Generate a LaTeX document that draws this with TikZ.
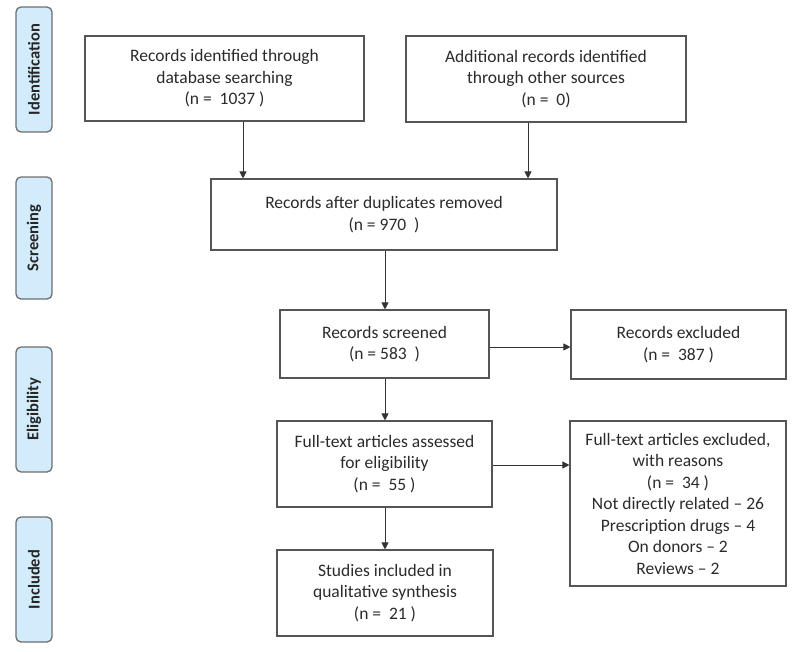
\documentclass[tikz,border=0pt]{standalone}
\usepackage{fontspec}
\setmainfont{Carlito}
\usetikzlibrary{arrows.meta}
\definecolor{boxline}{HTML}{555555}
\definecolor{sidefill}{HTML}{D2ECFB}
\definecolor{sideline}{HTML}{6E6E6E}
\definecolor{txt}{HTML}{2A2A2A}
\tikzset{
  flowbox/.style={draw=boxline, line width=1.1pt, align=center, inner sep=2pt,
    font=\fontsize{17.5}{21.5}\selectfont, text=txt},
  sidebox/.style={draw=sideline, line width=1.3pt, fill=sidefill, rounded corners=5pt,
    rotate=90, minimum height=36pt, inner sep=1pt,
    font=\fontsize{16.5}{18}\selectfont\bfseries, text=black!85},
  flowarrow/.style={draw=black!80, line width=1pt, -{Triangle[width=7pt,length=7pt]}}
}
\begin{document}
\begin{tikzpicture}[x=1pt,y=-1pt]
\useasboundingbox (0,0) rectangle (800,651);
% side labels
\node[sidebox, minimum width=125pt] (sid) at (34,69.5) {Identification};
\node[sidebox, minimum width=122pt] (sscr) at (34,238) {Screening};
\node[sidebox, minimum width=125pt] (selig) at (34,409.5) {Eligibility};
\node[sidebox, minimum width=125pt] (sinc) at (34,579.5) {Included};
% boxes
\node[flowbox, minimum width=279pt, minimum height=85pt] (id1) at (224.5,78.5)
  {Records identified through\\database searching\\(n =\ \ 1037 )};
\node[flowbox, minimum width=280pt, minimum height=86pt] (id2) at (546,79)
  {Additional records identified\\through other sources\\(n =\ \ 0)};
\node[flowbox, minimum width=346pt, minimum height=71pt] (dup) at (384,214.5)
  {Records after duplicates removed\\(n = 970\ \ )};
\node[flowbox, minimum width=209pt, minimum height=68pt] (scr) at (384.5,344)
  {Records screened\\(n = 583\ \ )};
\node[flowbox, minimum width=215pt, minimum height=69pt] (exc) at (678.5,344.5)
  {Records excluded\\(n =\ \ 387 )};
\node[flowbox, minimum width=215pt, minimum height=86pt] (full) at (384.5,464)
  {Full-text articles assessed\\for eligibility\\(n =\ \ 55 )};
\node[flowbox, minimum width=216pt, minimum height=165pt] (fexc) at (678,503.5)
  {Full-text articles excluded,\\with reasons\\(n =\ \ 34 )\\Not directly related -- 26\\Prescription drugs -- 4\\On donors -- 2\\Reviews -- 2};
\node[flowbox, minimum width=216pt, minimum height=86pt] (inc) at (385,593)
  {Studies included in\\qualitative synthesis\\(n =\ \ 21 )};
% arrows
\draw[flowarrow] (id1.south -| 243,0) -- (dup.north -| 243,0);
\draw[flowarrow] (id2.south -| 528,0) -- (dup.north -| 528,0);
\draw[flowarrow] (dup.south -| 385,0) -- (scr.north -| 385,0);
\draw[flowarrow] (scr.east |- 0,347) -- (exc.west |- 0,347);
\draw[flowarrow] (scr.south -| 385,0) -- (full.north -| 385,0);
\draw[flowarrow] (full.east |- 0,465) -- (fexc.west |- 0,465);
\draw[flowarrow] (full.south -| 385,0) -- (inc.north -| 385,0);
\end{tikzpicture}
\end{document}
